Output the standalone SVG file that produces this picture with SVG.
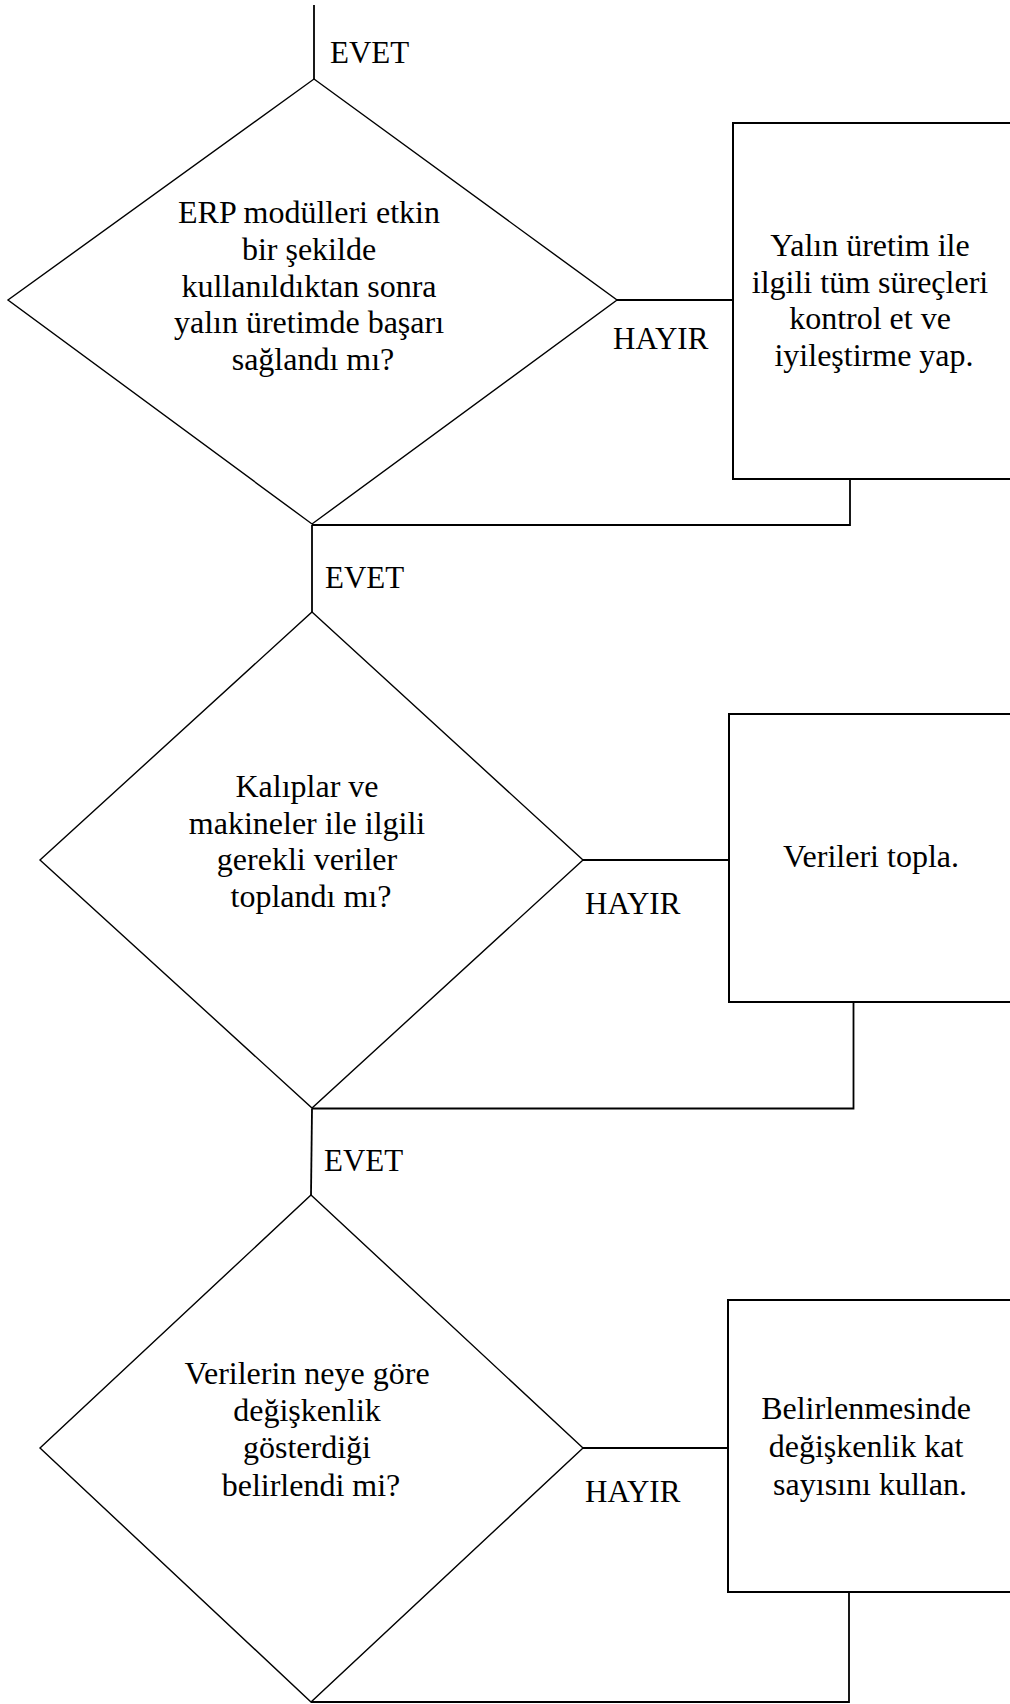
<svg xmlns="http://www.w3.org/2000/svg" width="1010" height="1704" viewBox="0 0 1010 1704">
  <style>
    .bg { fill: #ffffff; }
    .decision { fill: #ffffff; stroke: #000000; stroke-width: 1.4; stroke-linejoin: miter; }
    .process { fill: #ffffff; stroke: #000000; stroke-width: 2; }
    .link { fill: none; stroke: #000000; stroke-width: 1.8; }
    .txt { font-family: "Liberation Serif", "Times New Roman", serif; font-size: 32px; fill: #000000; text-anchor: middle; }
    .lbl { font-family: "Liberation Serif", "Times New Roman", serif; font-size: 31px; fill: #000000; }
  </style>
  <rect class="bg" x="0" y="0" width="1010" height="1704"/>

  <!-- connectors -->
  <g id="connectors">
    <polyline class="link" points="314,5 314,79"/>
    <polyline class="link" points="617,300 733,300"/>
    <polyline class="link" points="850,479 850,525 312,525"/>
    <polyline class="link" points="312,525 312,612"/>
    <polyline class="link" points="583,860 729,860"/>
    <polyline class="link" points="853.5,1002 853.5,1108.5 312,1108.5"/>
    <polyline class="link" points="312,1108.5 311,1195"/>
    <polyline class="link" points="583,1448 728,1448"/>
    <polyline class="link" points="849,1592 849,1702 311,1702"/>
    <text class="lbl" x="330" y="62.5">EVET</text>
    <text class="lbl" x="613" y="349">HAYIR</text>
    <text class="lbl" x="325" y="588">EVET</text>
    <text class="lbl" x="585" y="913.5">HAYIR</text>
    <text class="lbl" x="324" y="1170.5">EVET</text>
    <text class="lbl" x="585" y="1502">HAYIR</text>
  </g>

  <!-- decision 1 -->
  <g id="decision-erp">
    <polygon class="decision" points="314,79 617,300 312,524 8,300"/>
    <text class="txt">
      <tspan x="313" y="223">ERP modülleri etkin</tspan>
      <tspan x="313" y="260">bir şekilde</tspan>
      <tspan x="313" y="296.7">kullanıldıktan sonra</tspan>
      <tspan x="313" y="333.3">yalın üretimde başarı</tspan>
      <tspan x="313" y="370">sağlandı mı?</tspan>
    </text>
  </g>

  <!-- process 1 -->
  <g id="process-yalin">
    <rect class="process" x="733" y="123" width="300" height="356"/>
    <text class="txt">
      <tspan x="874" y="256">Yalın üretim ile</tspan>
      <tspan x="874" y="292.5">ilgili tüm süreçleri</tspan>
      <tspan x="874" y="329">kontrol et ve</tspan>
      <tspan x="874" y="365.5">iyileştirme yap.</tspan>
    </text>
  </g>

  <!-- decision 2 -->
  <g id="decision-veri">
    <polygon class="decision" points="312,612 583,860 312,1108 40,860"/>
    <text class="txt">
      <tspan x="311" y="797">Kalıplar ve</tspan>
      <tspan x="311" y="833.5">makineler ile ilgili</tspan>
      <tspan x="311" y="870">gerekli veriler</tspan>
      <tspan x="311" y="906.5">toplandı mı?</tspan>
    </text>
  </g>

  <!-- process 2 -->
  <g id="process-topla">
    <rect class="process" x="729" y="714" width="304" height="288"/>
    <text class="txt" x="871" y="867">Verileri topla.</text>
  </g>

  <!-- decision 3 -->
  <g id="decision-degiskenlik">
    <polygon class="decision" points="311,1195 583,1448 311,1702 40,1448"/>
    <text class="txt">
      <tspan x="311" y="1384">Verilerin neye göre</tspan>
      <tspan x="311" y="1421">değişkenlik</tspan>
      <tspan x="311" y="1458">gösterdiği</tspan>
      <tspan x="311" y="1496">belirlendi mi?</tspan>
    </text>
  </g>

  <!-- process 3 -->
  <g id="process-kat-sayisi">
    <rect class="process" x="728" y="1300" width="305" height="292"/>
    <text class="txt">
      <tspan x="870" y="1419">Belirlenmesinde</tspan>
      <tspan x="870" y="1457">değişkenlik kat</tspan>
      <tspan x="870" y="1494.5">sayısını kullan.</tspan>
    </text>
  </g>
</svg>
